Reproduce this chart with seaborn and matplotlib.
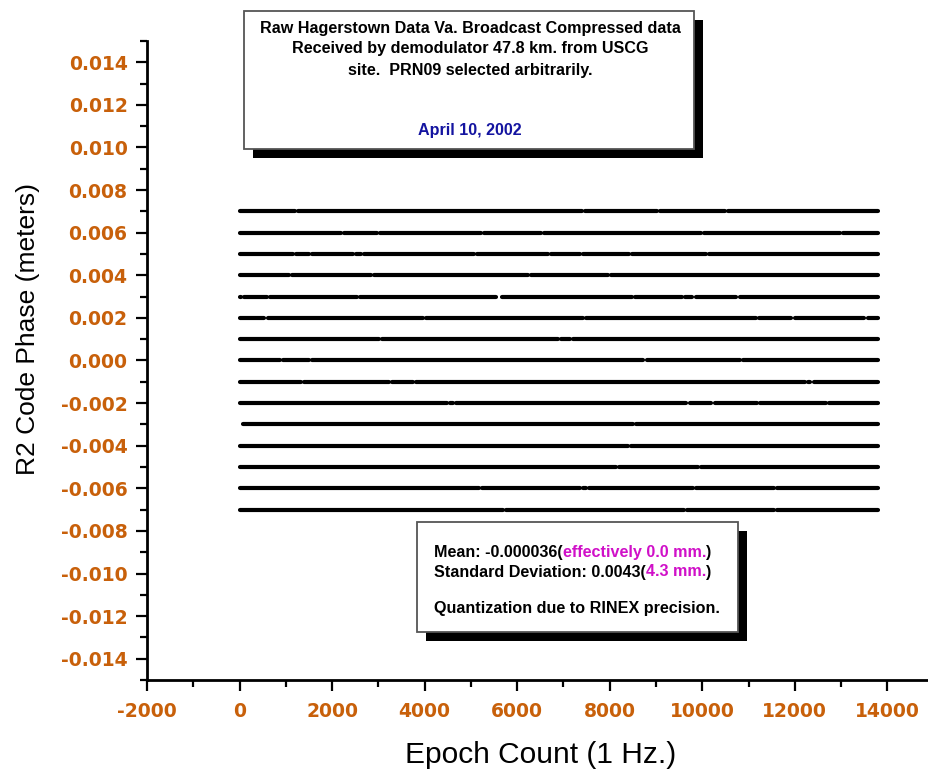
import numpy as np
import pandas as pd
import seaborn as sns
import matplotlib.pyplot as plt
from matplotlib.patches import Rectangle
from matplotlib.text import Annotation
from matplotlib.ticker import MultipleLocator, FormatStrFormatter

# quantized R2 code phase levels (meters), one horizontal track per level
levels = [0.007, 0.006, 0.005, 0.004, 0.003, 0.002, 0.001, 0.000,
          -0.001, -0.002, -0.003, -0.004, -0.005, -0.006, -0.007]

# epochs where a level track has a visible break
gaps = [
    [1230, 7440, 9060, 10530],
    [2230, 3000, 5250, 6550, 10010, 13010],
    [1190, 1540, 2490, 2660, 5100, 6700, 7390, 8450, 10110],
    [1100, 2880, 6270, 7990],
    [60, 630, 2570, 5580, 5640, 8510, 9590, 9820, 10770],
    [570, 4000, 7460, 11200, 11960, 13540],
    [3050, 6920, 7180],
    [910, 1540, 8760, 10850],
    [1360, 3270, 3780, 12260, 12370],
    [4520, 4650, 9690, 10230, 11220, 12710],
    [40, 8540],
    [8430],
    [8170, 9940],
    [5210, 7390, 7520, 9840, 11590],
    [5730, 9640, 11590],
]

first_epoch = 0
last_epoch = 13800

title_lines = ["Raw Hagerstown Data Va. Broadcast Compressed data",
               "Received by demodulator 47.8 km. from USCG",
               "site.  PRN09 selected arbitrarily."]
date_text = "April 10, 2002"

W, H = 929, 771
GAP_HALF = 35
BOX_FS = 11.6


def build_segments():
    rows = []
    seg = 0
    for level, breaks in zip(levels, gaps):
        starts = [first_epoch] + [g + GAP_HALF for g in breaks]
        ends = [g - GAP_HALF for g in breaks] + [last_epoch]
        for s, e in zip(starts, ends):
            rows.append({'segment': seg, 'epoch': s, 'phase': level})
            rows.append({'segment': seg, 'epoch': e, 'phase': level})
            seg += 1
    return pd.DataFrame(rows)


def fx(px):
    return px / W


def fy(py):
    return 1 - py / H


def shadow_box(fig, x0, y0, x1, y1, off=9, edge='#555555'):
    # black drop shadow then white box, all in pixel coords from top-left
    fig.add_artist(Rectangle((fx(x0 + off), fy(y1 + off)), fx(x1 - x0), (y1 - y0) / H,
                             transform=fig.transFigure, facecolor='black',
                             edgecolor='none', zorder=5))
    fig.add_artist(Rectangle((fx(x0), fy(y1)), fx(x1 - x0), (y1 - y0) / H,
                             transform=fig.transFigure, facecolor='white',
                             edgecolor=edge, linewidth=1.3, zorder=6))


def after(fig, prev, text, color):
    # place a text piece right after the previous one
    ann = Annotation(text, xy=(1, 0), xycoords=prev, va='bottom', ha='left',
                     fontsize=BOX_FS, fontweight='bold', color=color,
                     annotation_clip=False)
    ann.set_zorder(7)
    fig.add_artist(ann)
    return ann


sns.set_style('ticks')
plt.rcParams['font.family'] = ['Liberation Sans', 'DejaVu Sans']
plt.rcParams['axes.unicode_minus'] = False

fig = plt.figure(figsize=(W / 100, H / 100), dpi=100)
ax = fig.add_axes([fx(147), fy(680), fx(929 - 147), (680 - 41) / H])

df = build_segments()
sns.lineplot(data=df, x='epoch', y='phase', units='segment', estimator=None,
             color='black', linewidth=3, ax=ax, legend=False)

ax.set_xlim(-2000, 14900)
ax.set_ylim(-0.015, 0.015)
ax.xaxis.set_major_locator(MultipleLocator(2000))
ax.xaxis.set_minor_locator(MultipleLocator(1000))
ax.yaxis.set_major_locator(MultipleLocator(0.002))
ax.yaxis.set_minor_locator(MultipleLocator(0.001))
ax.yaxis.set_major_formatter(FormatStrFormatter('%.3f'))

tick_color = '#C8600A'
ax.tick_params(which='major', direction='out', length=8, width=1.6, color='black',
               labelcolor=tick_color, labelsize=13.5)
ax.tick_params(which='minor', direction='out', length=5, width=1.6, color='black')
ax.tick_params(axis='x', pad=8)
ax.tick_params(axis='y', pad=6)
for lab in ax.get_xticklabels() + ax.get_yticklabels():
    lab.set_fontweight('bold')
    lab.set_family('DejaVu Sans')

sns.despine(ax=ax)
for side in ['left', 'bottom']:
    ax.spines[side].set_linewidth(2)
    ax.spines[side].set_color('black')

ax.set_xlabel('Epoch Count (1 Hz.)', fontsize=21.5, va='center', color='black')
ax.set_ylabel('R2 Code Phase (meters)', fontsize=19, va='center', color='black')
ax.xaxis.set_label_coords(0.503, -0.117)
ax.yaxis.set_label_coords(-0.152, 0.55)

# title annotation box
shadow_box(fig, 244, 11, 694, 149)
for i, line in enumerate(title_lines):
    fig.text(fx(470), fy(28 + i * 21), line, ha='center', va='center',
             fontsize=BOX_FS, fontweight='bold', color='black', zorder=7)
fig.text(fx(470), fy(131), date_text, ha='center', va='center',
         fontsize=BOX_FS, fontweight='bold', color='#1414A0', zorder=7)

# statistics annotation box
shadow_box(fig, 417, 522, 738, 632)
magenta = '#D010C8'
t1 = fig.text(fx(434), fy(553), 'Mean: -0.000036(', ha='left', va='center',
              fontsize=BOX_FS, fontweight='bold', color='black', zorder=7)
a1 = after(fig, t1, 'effectively 0.0 mm.', magenta)
after(fig, a1, ')', 'black')
s1 = fig.text(fx(434), fy(572), 'Standard Deviation: 0.0043(', ha='left', va='center',
              fontsize=BOX_FS, fontweight='bold', color='black', zorder=7)
s2 = after(fig, s1, '4.3 mm.', magenta)
after(fig, s2, ')', 'black')
fig.text(fx(434), fy(608), 'Quantization due to RINEX precision.', ha='left', va='center',
         fontsize=BOX_FS, fontweight='bold', color='black', zorder=7)

fig.savefig('out.png', dpi=100)
